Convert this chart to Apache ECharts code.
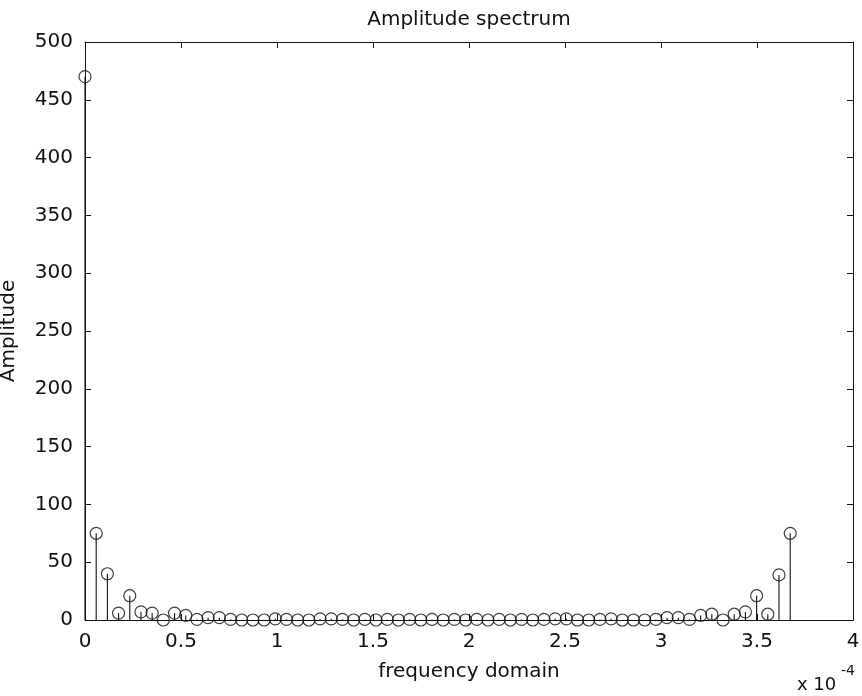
<!DOCTYPE html>
<html>
<head>
<meta charset="utf-8">
<script src="https://cdn.jsdelivr.net/npm/echarts@6/dist/echarts.min.js"></script>
<style>
  html, body { margin: 0; padding: 0; background: #fff; }
  #chart { width: 862px; height: 696px; }
</style>
</head>
<body>
<div id="chart"></div>
<script>
// Amplitude spectrum (stem plot), frequency axis in units of 1e-4
const freqStep = 0.0583;            // spacing of the frequency bins
const amplitude = [
  470, 75, 40, 6, 21, 7, 6, 0, 6, 4,
  0.5, 2, 2, 0.5, 0, 0, 0, 1, 0.5, 0,
  0, 1, 1, 0.5, 0, 0.5, 0, 0.5, 0, 0.5,
  0, 0.5, 0, 0.5, 0, 0.5, 0, 0.5, 0, 0.5,
  0, 0.5, 1, 1, 0, 0, 0.5, 1, 0, 0,
  0, 0.5, 2, 2, 0.5, 4, 5, 0, 5, 7,
  21, 5, 39, 75
];
const xTicks = [0, 0.5, 1, 1.5, 2, 2.5, 3, 3.5, 4];
const yTicks = [0, 50, 100, 150, 200, 250, 300, 350, 400, 450, 500];

const points = amplitude.map((a, k) => [k * freqStep, a]);

const FONT = 'DejaVu Sans';
const INK = '#111';

const chart = echarts.init(document.getElementById('chart'), null, { renderer: 'canvas' });

const baseX = {
  type: 'value', min: xTicks[0], max: xTicks[xTicks.length - 1], interval: 0.5,
  axisLine: { show: true, onZero: false, lineStyle: { color: INK, width: 1 } },
  axisTick: { show: true, inside: true, length: 6, lineStyle: { color: INK } },
  splitLine: { show: false }
};
const baseY = {
  type: 'value', min: yTicks[0], max: yTicks[yTicks.length - 1], interval: 50,
  axisLine: { show: true, onZero: false, lineStyle: { color: INK, width: 1 } },
  axisTick: { show: true, inside: true, length: 6, lineStyle: { color: INK } },
  splitLine: { show: false }
};

chart.setOption({
  backgroundColor: '#fff',
  animation: false,
  grid: { left: 85, right: 9, top: 42, bottom: 76, outerBoundsMode: 'none', containLabel: false },
  xAxis: [
    Object.assign({}, baseX, {
      position: 'bottom',
      name: 'frequency domain', nameLocation: 'middle', nameGap: 42,
      nameTextStyle: { fontFamily: FONT, fontSize: 20, color: INK },
      axisLabel: {
        margin: 12, fontFamily: FONT, fontSize: 20, color: INK,
        formatter: v => String(v)
      }
    }),
    Object.assign({}, baseX, { position: 'top', axisLabel: { show: false } })
  ],
  yAxis: [
    Object.assign({}, baseY, {
      position: 'left',
      name: 'Amplitude', nameLocation: 'middle', nameGap: 66,
      nameTextStyle: { fontFamily: FONT, fontSize: 20, color: INK },
      axisLabel: { margin: 12, fontFamily: FONT, fontSize: 20, color: INK }
    }),
    Object.assign({}, baseY, { position: 'right', axisLabel: { show: false } })
  ],
  graphic: [
    {
      // plot title, centred over the axes box
      type: 'text', x: 469, y: 10,
      style: {
        text: 'Amplitude spectrum', textAlign: 'center',
        fontFamily: FONT, fontSize: 20, fill: INK
      }
    },
    {
      type: 'text', x: 797, y: 676,
      style: { text: 'x 10', fontFamily: FONT, fontSize: 18, fill: INK }
    },
    {
      type: 'text', x: 841, y: 664,
      style: { text: '-4', fontFamily: FONT, fontSize: 14, fill: INK }
    }
  ],
  series: [
    {
      // stems from the baseline to each amplitude
      type: 'custom',
      xAxisIndex: 0, yAxisIndex: 0,
      data: points,
      renderItem: function (params, api) {
        const x = api.value(0), y = api.value(1);
        const p0 = api.coord([x, 0]);
        const p1 = api.coord([x, y]);
        return {
          type: 'line',
          shape: { x1: p0[0], y1: p0[1], x2: p1[0], y2: p1[1] },
          style: { stroke: INK, lineWidth: 1.1 }
        };
      },
      z: 2
    },
    {
      // open circle markers at the stem heads
      type: 'scatter',
      xAxisIndex: 0, yAxisIndex: 0,
      data: points,
      symbol: 'circle',
      symbolSize: 12,
      itemStyle: { color: 'rgba(0,0,0,0)', borderColor: INK, borderWidth: 1.2 },
      emphasis: { disabled: true },
      z: 3
    }
  ]
});
</script>
</body>
</html>
